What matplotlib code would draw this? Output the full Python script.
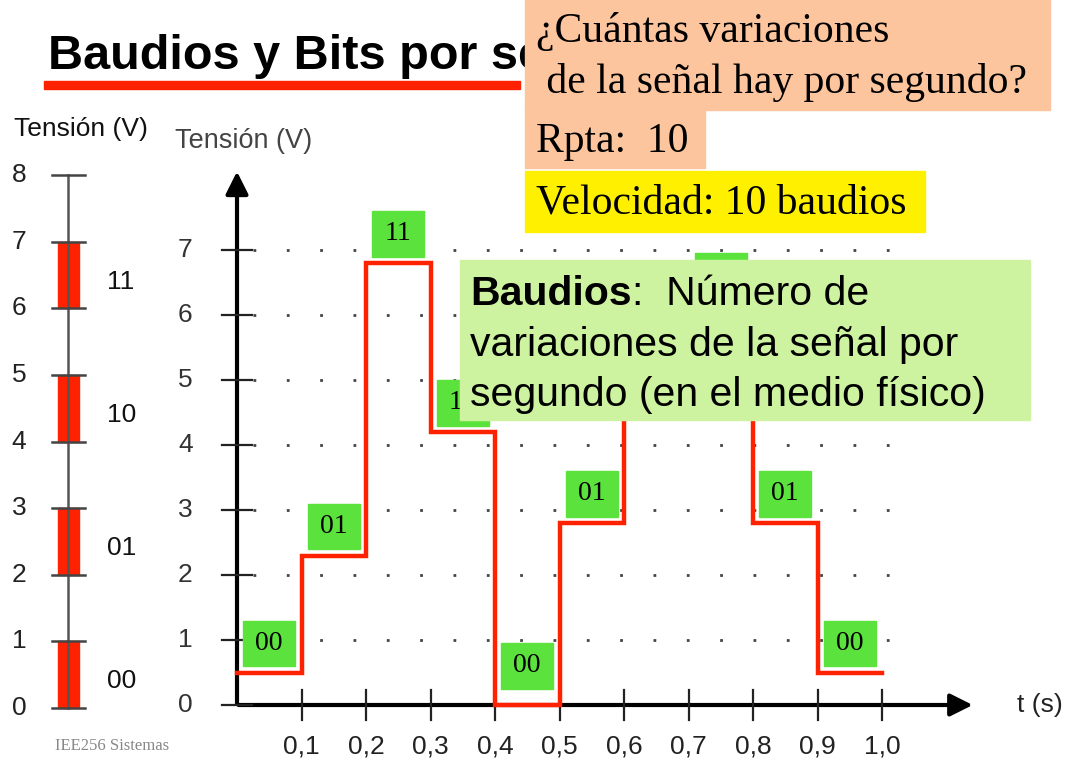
import matplotlib
import matplotlib.pyplot as plt
from matplotlib.patches import Rectangle
from matplotlib.transforms import Bbox
matplotlib.use("Agg")

# signal: one symbol every 0,1 s
t_edges = [0.0, 0.1, 0.2, 0.3, 0.4, 0.5, 0.6, 0.7, 0.8, 0.9, 1.0]
levels = [0.5, 2.3, 6.8, 4.2, 0.0, 2.8, 4.8, 6.15, 2.8, 0.5]
symbols = ["00", "01", "11", "10", "00", "01", "10", "11", "01", "00"]
x_ticks = [0.1, 0.2, 0.3, 0.4, 0.5, 0.6, 0.7, 0.8, 0.9, 1.0]
x_labels = ["0,1", "0,2", "0,3", "0,4", "0,5", "0,6", "0,7", "0,8", "0,9", "1,0"]
y_ticks_main = [0, 1, 2, 3, 4, 5, 6, 7]

# left scale: voltage ranges for every pair of bits
ranges_lo = [0, 2, 4, 6]
ranges_hi = [1, 3, 5, 7]
range_names = ["00", "01", "10", "11"]
y_ticks_left = [0, 1, 2, 3, 4, 5, 6, 7, 8]

RED = "#ff2200"
GREEN = "#5ce23c"
W, H = 1074, 758

def fx(px):
    return px / W

def fy(py):
    return 1 - py / H

fig = plt.figure(figsize=(10.74, 7.58), dpi=100)
fig.patch.set_facecolor("white")

# ---- left scale ----
axl = fig.add_axes([0, 0, fx(170), 608 / H])
axl.set_xlim(0, 170)
axl.set_ylim((708 - 758) / 66.6, (708 - 150) / 66.6)
axl.axis("off")
axl.plot([68, 68], [0, 8], color="#555555", lw=1.8, zorder=3)
for v in y_ticks_left:
    axl.plot([52, 85], [v, v], color="#444444", lw=1.8, zorder=3)
    axl.text(19, v, str(v), ha="center", va="center", fontsize=19,
             color="#222222", family="Liberation Sans")
for lo, hi, name in zip(ranges_lo, ranges_hi, range_names):
    axl.add_patch(Rectangle((58, lo), 21, hi - lo, color=RED, zorder=2))
    axl.text(107, lo + 0.4, name, ha="left", va="center", fontsize=19,
             color="#111111", family="Liberation Sans")

# ---- main signal chart ----
ax = fig.add_axes([fx(180), 0, 1 - fx(180), 608 / H])
ax.set_xlim((180 - 237) / 645, (1074 - 237) / 645)
ax.set_ylim((705 - 758) / 65, (705 - 150) / 65)
ax.axis("off")

# dotted grid
ax.hlines(y_ticks_main[1:], 0.025, 1.036, colors="#444444", lw=2.0,
          linestyles=(0, (1, 11)), zorder=1)

# axes with arrows
ax.annotate("", xy=(0, 8.25), xytext=(0, -0.02),
            arrowprops=dict(arrowstyle="-|>", lw=3, color="black",
                            mutation_scale=34), zorder=3)
ax.annotate("", xy=(1.145, 0), xytext=(-0.002, 0),
            arrowprops=dict(arrowstyle="-|>", lw=3, color="black",
                            mutation_scale=34), zorder=3)
for v in y_ticks_main:
    ax.plot([-0.023, 0.023], [v, v], color="#222222", lw=1.6, zorder=3)
    ax.text(-0.08, v, str(v), ha="center", va="center", fontsize=19,
            color="#333333", family="Liberation Sans")
for t, lab in zip(x_ticks, x_labels):
    ax.plot([t, t], [-0.23, 0.23], color="#222222", lw=1.6, zorder=3)
    ax.text(t, -0.64, lab, ha="center", va="center", fontsize=19,
            color="#222222", family="Liberation Sans")
ax.text(1.245, 0, "t (s)", ha="center", va="center", fontsize=19,
        color="#222222", family="Liberation Sans")

# the signal
ax.step(t_edges, levels + [levels[-1]], where="post", color=RED, lw=3.2,
        zorder=4, solid_joinstyle="miter")

# green symbol labels
for t0, lev, sym in zip(t_edges[:-1], levels, symbols):
    bottom = max(lev, 0.15) + 0.1
    ax.add_patch(Rectangle((t0 + 0.01, bottom), 0.08, 0.7, color=GREEN,
                           zorder=5))
    ax.text(t0 + 0.05, bottom + 0.35, sym, ha="center", va="center",
            fontsize=20, family="Liberation Serif", zorder=6)

# ---- slide texts ----
fig.text(fx(48), fy(69), "Baudios y Bits por segundo", fontsize=35,
         fontweight="bold", family="Liberation Sans", va="baseline",
         zorder=10)
fig.patches.append(Rectangle((fx(44), fy(89)), fx(520) - fx(44), 8 / H,
                             transform=fig.transFigure, color=RED, zorder=10))

fig.text(fx(14), fy(129), "Tensión (V)", fontsize=19, va="center",
         family="Liberation Sans", color="#111111")
fig.text(fx(175), fy(141), "Tensión (V)", fontsize=19.5, va="center",
         family="Liberation Sans", color="#444444")

foot = fig.text(fx(55), fy(746), "IEE256 Sistemas", fontsize=12, va="center",
                family="Liberation Serif", color="#888888")
foot.set_clip_box(Bbox([[0, 0], [182, H]]))
foot.set_clip_on(True)

# question boxes
PEACH = "#fcc59e"
fig.patches.append(Rectangle((fx(525), fy(110)), fx(1050) - fx(525), 110 / H,
                             transform=fig.transFigure, color=PEACH, zorder=20))
fig.patches.append(Rectangle((fx(525), fy(168)), fx(705) - fx(525), 60 / H,
                             transform=fig.transFigure, color=PEACH, zorder=20))
fig.patches.append(Rectangle((fx(525), fy(232)), fx(925) - fx(525), 61 / H,
                             transform=fig.transFigure, color="#fff000",
                             zorder=20))
serif = dict(family="Liberation Serif", fontsize=30, va="baseline", zorder=21)
fig.text(fx(536), fy(42), "¿Cuántas variaciones", **serif)
fig.text(fx(536), fy(93), " de la señal hay por segundo?", **serif)
fig.text(fx(536), fy(152), "Rpta:  10", **serif)
fig.text(fx(536), fy(214), "Velocidad: 10 baudios", **serif)

# definition box
fig.patches.append(Rectangle((fx(460), fy(420)), fx(1030) - fx(460), 160 / H,
                             transform=fig.transFigure, color="#cdf3a0",
                             zorder=20))
sans = dict(family="Liberation Sans", fontsize=29.5, va="baseline", zorder=21)
b = fig.text(fx(470), fy(305), "Baudios", fontweight="bold", **sans)
renderer = fig.canvas.get_renderer()
bb = b.get_window_extent(renderer)
fig.text(bb.x1 / W, fy(305), ":  Número de", **sans)
fig.text(fx(470), fy(356), "variaciones de la señal por", **sans)
fig.text(fx(470), fy(406), "segundo (en el medio físico)", **sans)

fig.savefig("out.png", dpi=100)
